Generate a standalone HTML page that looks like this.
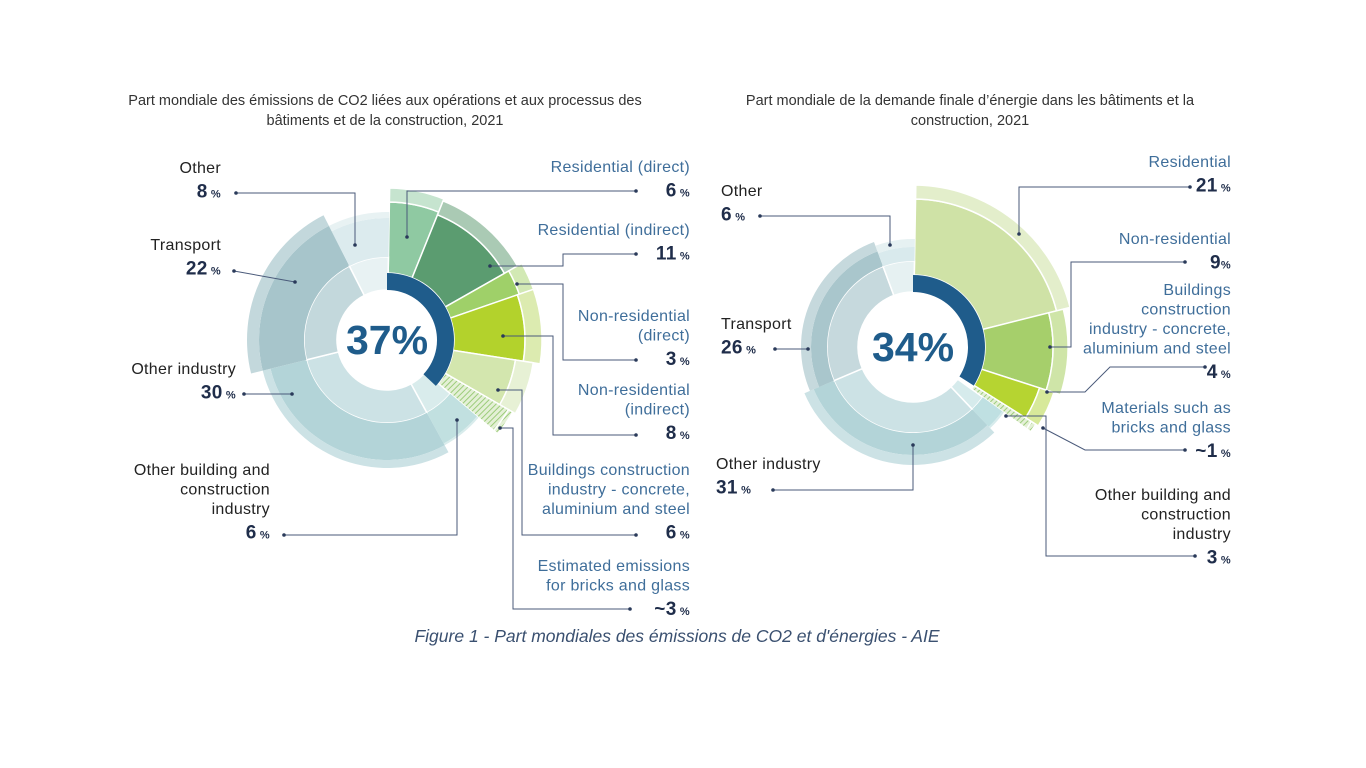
<!DOCTYPE html>
<html><head><meta charset="utf-8">
<style>
body{margin:0;background:#fff;width:1366px;height:768px;overflow:hidden;font-family:"Liberation Sans",sans-serif}
svg{position:absolute;left:0;top:0}
</style></head>
<body>
<svg id="c" width="1366" height="768" viewBox="0 0 1366 768">
<defs>
<pattern id="hatch" patternUnits="userSpaceOnUse" width="4" height="4" patternTransform="rotate(45)">
<rect width="4" height="4" fill="#e4f0d6"/><line x1="0" y1="0" x2="0" y2="4" stroke="#9ccc7a" stroke-width="2"/>
</pattern>
</defs>
<g font-size="14.5" fill="#333" text-anchor="middle">
<text x="385" y="105">Part mondiale des émissions de CO2 liées aux opérations et aux processus des</text>
<text x="385" y="125">bâtiments et de la construction, 2021</text>
</g>
<g font-size="14.5" fill="#333" text-anchor="middle">
<text x="970" y="105">Part mondiale de la demande finale d’énergie dans les bâtiments et la</text>
<text x="970" y="125">construction, 2021</text>
</g>
<g id="left"></g>
<g id="right"></g>
<g id="ann" font-size="16" letter-spacing="0.3"></g>
<text x="677" y="642" font-size="17.5" font-style="italic" fill="#3a5070" text-anchor="middle">Figure 1 - Part mondiales des émissions de CO2 et d'énergies - AIE</text>
</svg>
<script>
// Left chart data (percent)
const leftCategories = ["Residential (direct)","Residential (indirect)","Non-residential (direct)","Non-residential (indirect)","Buildings construction industry","Bricks and glass","Other building and construction industry","Other industry","Transport","Other"];
const leftValues = [6,11,3,8,6,3,6,30,22,8];
const leftTotal = 37;
// Right chart data (percent)
const rightCategories = ["Residential","Non-residential","Buildings construction industry","Materials such as bricks and glass","Other building and construction industry","Other industry","Transport","Other"];
const rightValues = [21,9,4,1,3,31,26,6];
const rightTotal = 34;

// styles (not data)
const leftStyle = [
 {g:1,c:"#8fc9a2",l:"#c6e4cf",r:138,o:152},
 {g:1,c:"#5b9c70",l:"#aacab4",r:135,o:150},
 {g:1,c:"#9fd069",l:"#d2e9b4",r:140,o:155},
 {g:1,c:"#b3d22c",l:"#dcebb0",r:138,o:155},
 {g:1,c:"#d3e6ae",l:"#e7f1d5",r:130,o:148},
 {g:1,c:"url(#hatch)",l:"url(#hatch)",r:140,o:145},
 {g:0,c:"#c1e0e0",l:"#d9ecec",r:118,o:120},
 {g:0,c:"#b3d4d8",l:"#cce2e5",r:120,o:128},
 {g:0,c:"#a7c5cb",l:"#c3d8dc",r:128,o:140},
 {g:0,c:"#dcebee",l:"#e8f2f3",r:122,o:128}
];
const rightStyle = [
 {g:1,c:"#cfe2a6",l:"#e3eecb",r:148,o:162},
 {g:1,c:"#a6cf6b",l:"#cfe5a8",r:140,o:155},
 {g:1,c:"#b6d431",l:"#d7e99a",r:133,o:148},
 {g:1,c:"url(#hatch)",l:"url(#hatch)",r:140,o:145},
 {g:0,c:"#bfe0e2",l:"#d6ebec",r:110,o:112},
 {g:0,c:"#b3d4d8",l:"#cce2e5",r:108,o:118},
 {g:0,c:"#a9c6cc",l:"#c6d9dd",r:102,o:112},
 {g:0,c:"#d9eaed",l:"#e6f1f2",r:100,o:108}
];
const NS="http://www.w3.org/2000/svg";
function pol(cx,cy,r,a){const t=a*Math.PI/180;return [cx+r*Math.sin(t),cy-r*Math.cos(t)];}
function arc(cx,cy,r0,r1,a0,a1){
 const [x0,y0]=pol(cx,cy,r1,a0),[x1,y1]=pol(cx,cy,r1,a1),[x2,y2]=pol(cx,cy,r0,a1),[x3,y3]=pol(cx,cy,r0,a0);
 const lg=(a1-a0)>180?1:0;
 return `M${x0},${y0}A${r1},${r1} 0 ${lg} 1 ${x1},${y1}L${x2},${y2}A${r0},${r0} 0 ${lg} 0 ${x3},${y3}Z`;
}
function add(g,d,fill,name,sw){
 const p=document.createElementNS(NS,"path");p.setAttribute("d",d);p.setAttribute("fill",fill);
 p.setAttribute("stroke","#fff");p.setAttribute("stroke-width",sw);
 
 
 g.appendChild(p);
}
function donut(id,cx,cy,values,cats,style,total,rw,rb,rg,scaleSum){
 const g=document.getElementById(id);
 const k=360/scaleSum;let a=1;
 values.forEach((v,i)=>{
  const s=style[i],a0=a,a1=a+v*k;a=a1;
  const nm=cats[i].toLowerCase().replace(/[^a-z]+/g,'-')+'-segment';
  if(s.g){add(g,arc(cx,cy,rb,s.r,a0,a1),s.c,nm,"1.5");add(g,arc(cx,cy,s.r,s.o,a0,a1),s.l,nm+'-outer',"1.5");}
  else{add(g,arc(cx,cy,rw,rg,a0,a1),s.l,nm+'-inner',"1.5");add(g,arc(cx,cy,rg,s.r,a0,a1),s.c,nm,"0");add(g,arc(cx,cy,s.r,s.o,a0,a1),s.l,nm+'-outer',"0");}
 });
 const b=document.createElementNS(NS,"path");b.setAttribute("d",arc(cx,cy,rw,rb,0,total*3.6));b.setAttribute("fill","#1f5c8b");
 
 
 g.appendChild(b);
 const t=document.createElementNS(NS,"text");t.setAttribute("x",cx);t.setAttribute("y",cy+14);t.setAttribute("text-anchor","middle");
 t.setAttribute("font-size","41");t.setAttribute("font-weight","bold");t.setAttribute("fill","#1f5c8b");t.textContent=total+"%";
 
 
 g.appendChild(t);
}
donut("left",387,340,leftValues,leftCategories,leftStyle,leftTotal,50,67,83,103);
donut("right",913,347,rightValues,rightCategories,rightStyle,rightTotal,55,72,86,101);

const ann=document.getElementById("ann");
function lbl(x,y,anchor,lines,num,color,name){
 const g=document.createElementNS(NS,"g");
 
 
 lines.forEach((l,i)=>{const t=document.createElementNS(NS,"text");t.setAttribute("x",x);t.setAttribute("y",y+i*19.5);t.setAttribute("text-anchor",anchor);t.setAttribute("fill",color);t.textContent=l;g.appendChild(t);});
 const t=document.createElementNS(NS,"text");t.setAttribute("x",x);t.setAttribute("y",y+lines.length*19.5+5);t.setAttribute("text-anchor",anchor);t.setAttribute("fill","#1f2d4a");
 t.innerHTML=`<tspan font-size="19" font-weight="bold">${num[0]}</tspan><tspan font-size="11" font-weight="bold">${num[1]}</tspan>`;
 g.appendChild(t);ann.appendChild(g);
}
function line(pts,name){
 const p=document.createElementNS(NS,"polyline");p.setAttribute("points",pts);p.setAttribute("fill","none");p.setAttribute("stroke","#4a5a7a");p.setAttribute("stroke-width","1");
 
 
 ann.appendChild(p);
 const c=pts.split(" ");[c[0],c[c.length-1]].forEach(q=>{const [x,y]=q.split(",");const d=document.createElementNS(NS,"circle");d.setAttribute("cx",x);d.setAttribute("cy",y);d.setAttribute("r","1.8");d.setAttribute("fill","#2a3a5a");ann.appendChild(d);});
}
const BL="#3f6e9a",DK="#222";
lbl(221,173,"end",["Other"],["8"," %"],DK,"label-other-left");
line("236,193 355,193 355,245","leader-other-left");
lbl(221,250,"end",["Transport"],["22"," %"],DK,"label-transport-left");
line("234,271 295,282","leader-transport-left");
lbl(236,374,"end",["Other industry"],["30"," %"],DK,"label-other-industry-left");
line("244,394 292,394","leader-other-industry-left");
lbl(270,475,"end",["Other building and","construction","industry"],["6"," %"],DK,"label-other-building-left");
line("284,535 457,535 457,420","leader-other-building-left");
lbl(690,172,"end",["Residential (direct)"],["6"," %"],BL,"label-residential-direct");
line("407,237 407,191 636,191","leader-residential-direct");
lbl(690,235,"end",["Residential (indirect)"],["11"," %"],BL,"label-residential-indirect");
line("490,266 563,266 563,254 636,254","leader-residential-indirect");
lbl(690,321,"end",["Non-residential","(direct)"],["3"," %"],BL,"label-nonres-direct");
line("517,284 563,284 563,360 636,360","leader-nonres-direct");
lbl(690,395,"end",["Non-residential","(indirect)"],["8"," %"],BL,"label-nonres-indirect");
line("503,336 553,336 553,435 636,435","leader-nonres-indirect");
lbl(690,475,"end",["Buildings construction","industry - concrete,","aluminium and steel"],["6"," %"],BL,"label-buildings-construction-left");
line("498,390 522,390 522,535 636,535","leader-buildings-construction-left");
lbl(690,571,"end",["Estimated emissions","for bricks and glass"],["~3"," %"],BL,"label-bricks-glass-left");
line("500,428 513,428 513,609 630,609","leader-bricks-glass-left");

lbl(721,196,"start",["Other"],["6"," %"],DK,"label-other-right");
line("760,216 890,216 890,245","leader-other-right");
lbl(721,329,"start",["Transport"],["26"," %"],DK,"label-transport-right");
line("775,349 808,349","leader-transport-right");
lbl(716,469,"start",["Other industry"],["31"," %"],DK,"label-other-industry-right");
line("773,490 913,490 913,445","leader-other-industry-right");
lbl(1231,167,"end",["Residential"],["21"," %"],BL,"label-residential-right");
line("1019,234 1019,187 1190,187","leader-residential-right");
lbl(1231,244,"end",["Non-residential"],["9","%"],BL,"label-nonres-right");
line("1050,347 1071,347 1071,262 1185,262","leader-nonres-right");
lbl(1231,295,"end",["Buildings","construction","industry - concrete,","aluminium and steel"],["4"," %"],BL,"label-buildings-construction-right");
line("1047,392 1085,392 1110,367 1205,367","leader-buildings-construction-right");
lbl(1231,413,"end",["Materials such as","bricks and glass"],["~1"," %"],BL,"label-materials-right");
line("1043,428 1085,450 1185,450","leader-materials-right");
lbl(1231,500,"end",["Other building and","construction","industry"],["3"," %"],DK,"label-other-building-right");
line("1006,416 1046,416 1046,556 1195,556","leader-other-building-right");
</script>
</body></html>
